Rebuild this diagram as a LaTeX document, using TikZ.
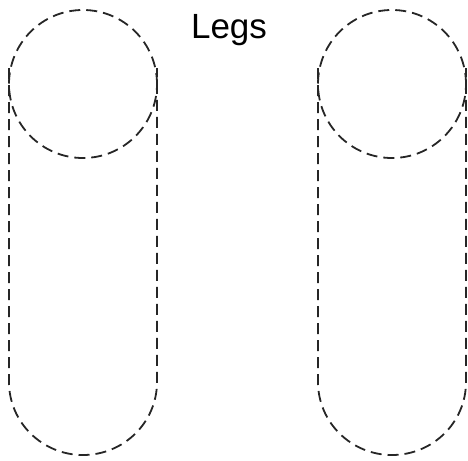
\documentclass[tikz,border=0pt]{standalone}
\usepackage{fontspec}
\setmainfont{Liberation Sans}
\begin{document}
\begin{tikzpicture}[x=1pt,y=-1pt,
  leg/.style={draw=black!85, line width=1.8pt, dash pattern=on 11pt off 6pt},
  title/.style={font=\fontsize{35}{40}\selectfont, inner sep=0pt}]
\useasboundingbox (0,0) rectangle (468,460);
% left leg
\draw[leg] (9,68) -- (9,382) arc[start angle=180,end angle=360,x radius=74,y radius=-73] -- (157,68);
\node[leg, circle, minimum size=148pt, inner sep=0pt] (lc) at (83,84) {};
% right leg
\draw[leg] (318,68) -- (318,382) arc[start angle=180,end angle=360,x radius=74,y radius=-73] -- (466,68);
\node[leg, circle, minimum size=148pt, inner sep=0pt] (rc) at (392,84) {};
\node[title, anchor=base] (t) at (229,38) {Legs};
\end{tikzpicture}
\end{document}
